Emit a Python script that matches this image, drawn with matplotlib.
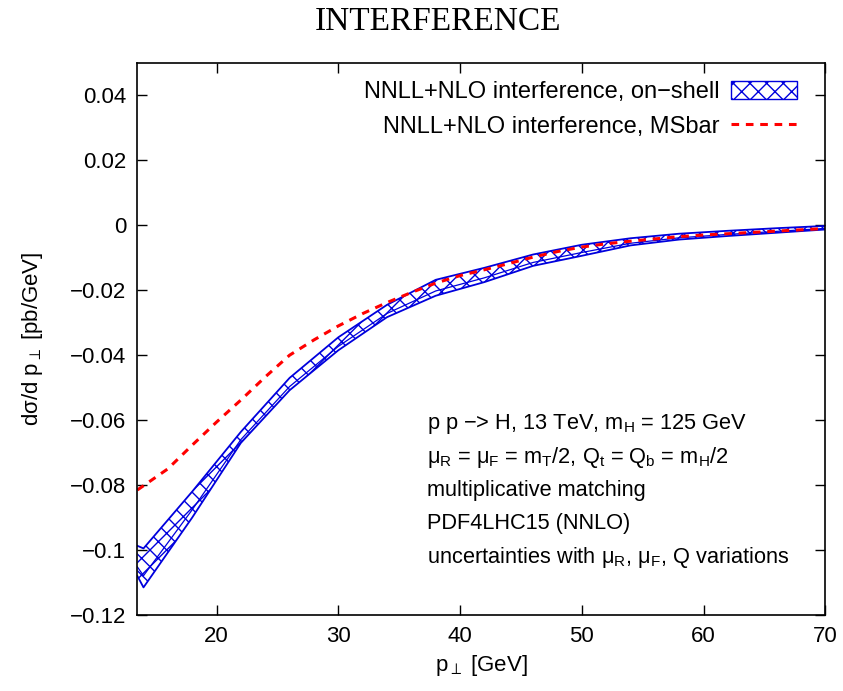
import numpy as np
import matplotlib
matplotlib.use('Agg')
import matplotlib.pyplot as plt
from matplotlib.patches import Patch
from matplotlib.lines import Line2D

# on-shell band (upper / lower edge)
pt_band = [13.5, 14, 18, 22, 26, 30, 34, 38, 42, 46, 50, 54, 58, 62, 66, 70]
band_up = [-0.0987, -0.0995, -0.0820, -0.0636, -0.0470, -0.0345, -0.0245, -0.0168,
           -0.0131, -0.0090, -0.0060, -0.0040, -0.0026, -0.0017, -0.0009, -0.0002]
band_lo = [-0.1080, -0.1115, -0.0900, -0.0670, -0.0508, -0.0385, -0.0283, -0.0217,
           -0.0175, -0.0125, -0.0094, -0.0062, -0.0044, -0.0033, -0.0023, -0.0013]

# MSbar curve
pt_ms = [13.5, 16, 18, 20, 22, 24, 26, 28, 30, 32, 34, 36, 38, 40, 42, 44, 46, 48,
         50, 52, 54, 56, 58, 60, 62, 64, 66, 68, 70]
ms_val = [-0.0815, -0.0750, -0.0677, -0.0606, -0.0538, -0.0467, -0.0400, -0.0353,
          -0.0310, -0.0272, -0.0238, -0.0207, -0.0178, -0.0155, -0.0137, -0.0118,
          -0.0098, -0.0081, -0.0067, -0.0057, -0.0049, -0.0042, -0.0035, -0.0030,
          -0.0026, -0.0022, -0.0018, -0.0014, -0.0010]

xticks = [20, 30, 40, 50, 60, 70]
yticks = [-0.12, -0.1, -0.08, -0.06, -0.04, -0.02, 0, 0.02, 0.04]

info_lines = [
    r'p p −> H, 13 TeV, m$_\mathrm{H}$ = 125 GeV',
    r'μ$_\mathrm{R}$ = μ$_\mathrm{F}$ = m$_\mathrm{T}$/2, Q$_\mathrm{t}$ = Q$_\mathrm{b}$ = m$_\mathrm{H}$/2',
    'multiplicative matching',
    'PDF4LHC15 (NNLO)',
    r'uncertainties with μ$_\mathrm{R}$, μ$_\mathrm{F}$, Q variations',
]

blue = '#0000dd'
red = '#ff0000'

plt.rcParams['font.family'] = ['Liberation Sans', 'DejaVu Sans']
plt.rcParams['font.size'] = 16
plt.rcParams['mathtext.fontset'] = 'custom'
plt.rcParams['mathtext.rm'] = 'Liberation Sans'
plt.rcParams['mathtext.it'] = 'Liberation Sans:italic'
plt.rcParams['mathtext.bf'] = 'Liberation Sans:bold'
plt.rcParams['hatch.linewidth'] = 1.0
plt.rcParams['hatch.color'] = blue

fig = plt.figure(figsize=(8.43, 6.91), dpi=100)
ax = fig.add_axes([0.163, 0.110, 0.816, 0.799])

x = np.array(pt_band)
up = np.array(band_up)
lo = np.array(band_lo)
ax.fill_between(x, lo, up, facecolor='none', edgecolor=blue, hatch='xx', linewidth=0)
ax.plot(x, up, color=blue, lw=1.3)
ax.plot(x, lo, color=blue, lw=1.3)
ax.plot(x, lo + 0.3 * (up - lo), color=blue, lw=0.9)

ax.plot(pt_ms, ms_val, color=red, lw=2.2, dashes=(2.5, 2.2))

ax.set_xlim(13.5, 70)
ax.set_ylim(-0.12, 0.05)
ax.set_xticks(xticks)
ax.set_yticks(yticks)
ax.set_yticklabels([('−%g' % abs(v)) if v < 0 else ('%g' % v) for v in yticks])
ax.tick_params(direction='in', length=7, width=1, top=True, right=True, pad=8)
for s in ax.spines.values():
    s.set_linewidth(1.2)

ax.set_xlabel(r'p$_\perp$ [GeV]', labelpad=4)
ax.set_ylabel(r'dσ/d p$_\perp$ [pb/GeV]', labelpad=18)

fig.text(0.519, 0.969, 'INTERFERENCE', family='Liberation Serif', fontsize=24,
         ha='center', va='center')

handles = [Patch(facecolor='none', edgecolor=blue, hatch='xx', linewidth=1.0),
           Line2D([], [], color=red, lw=2.2, dashes=(2.5, 2.2))]
labels = ['NNLL+NLO interference, on−shell', 'NNLL+NLO interference, MSbar']
ax.legend(handles, labels, loc='upper right', frameon=False, markerfirst=False,
          handlelength=2.8, handleheight=0.8, labelspacing=0.55, fontsize=17,
          bbox_to_anchor=(0.973, 0.985), borderaxespad=0.0, handletextpad=0.5)

ys = [0.346, 0.286, 0.225, 0.165, 0.105]
for t, yy in zip(info_lines, ys):
    ax.text(0.421, yy, t, transform=ax.transAxes, ha='left', va='center',
            fontsize=15.7)

fig.savefig('out.png', dpi=100)
